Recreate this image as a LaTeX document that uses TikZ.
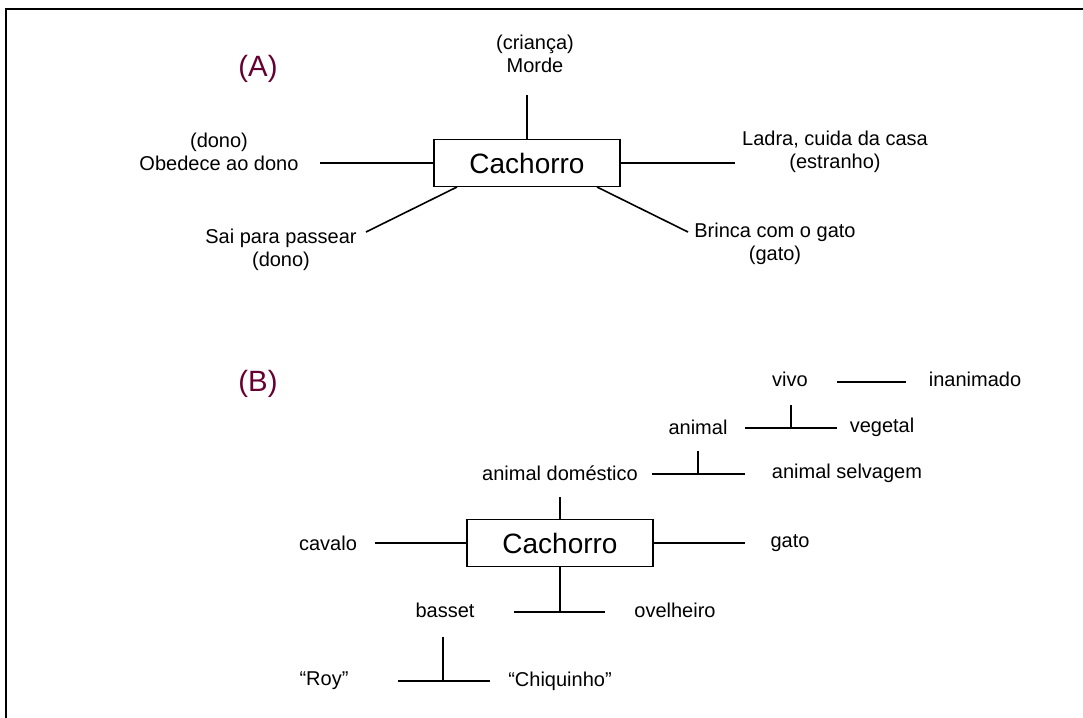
\documentclass[tikz,border=0pt]{standalone}
\usepackage{fontspec}
\setmainfont{Liberation Sans}
\definecolor{labelred}{HTML}{660033}
\begin{document}
\begin{tikzpicture}[x=0.75pt,y=-0.75pt,
  txt/.style={font=\fontsize{15}{17.25}\selectfont, inner sep=0pt, align=center},
  boxnode/.style={draw, line width=1.2pt, font=\fontsize{21}{24}\selectfont,
    minimum width=139.5pt, minimum height=35.25pt, inner sep=0pt},
  conn/.style={line width=1.2pt},
  panel/.style={font=\fontsize{22}{26}\selectfont, text=labelred, inner sep=0pt},
  frame/.style={line width=2.2pt}]
\useasboundingbox (0,0) rectangle (1083,718);
\draw[frame] (6,718) -- (6,9) -- (1083,9);

% ---------- (A) ----------
\node[panel] (labA) at (258,69) {(A)};
\node[boxnode] (boxA) at (527,163) {Cachorro};
\node[txt] (crianca) at (535,54) {(criança)\\Morde};
\node[txt] (obedece) at (219,152) {(dono)\\Obedece ao dono};
\node[txt] (ladra) at (835,152) {Ladra, cuida da casa\\(estranho)};
\node[txt] (sai) at (281,250) {Sai para passear\\(dono)};
\node[txt] (brinca) at (775,244) {Brinca com o gato\\(gato)};

\coordinate (aTop) at (527,95);
\coordinate (aL) at (320,163);
\coordinate (aR) at (735,163);
\coordinate (aLLs) at (457,187);
\coordinate (aLLe) at (366,232);
\coordinate (aLRs) at (597,187);
\coordinate (aLRe) at (688,232);
\draw[conn] (boxA.north) -- (aTop);
\draw[conn] (boxA.west) -- (aL);
\draw[conn] (boxA.east) -- (aR);
\draw[conn] (aLLs) -- (aLLe);
\draw[conn] (aLRs) -- (aLRe);

% ---------- (B) ----------
\node[panel] (labB) at (258,384) {(B)};
\node[boxnode] (boxB) at (560,543) {Cachorro};
\node[txt] (vivo) at (790,379) {vivo};
\node[txt] (inanimado) at (975,379) {inanimado};
\node[txt] (animal) at (698,427) {animal};
\node[txt] (vegetal) at (882,427) {vegetal};
\node[txt] (domestico) at (560,473) {animal doméstico};
\node[txt] (selvagem) at (847,473) {animal selvagem};
\node[txt] (cavalo) at (328,543) {cavalo};
\node[txt] (gato) at (790,543) {gato};
\node[txt] (basset) at (445,610) {basset};
\node[txt] (ovelheiro) at (675,610) {ovelheiro};
\node[txt] (roy) at (324,681) {“Roy”};
\node[txt] (chiquinho) at (560,681) {“Chiquinho”};

% vivo -- inanimado
\coordinate (v1) at (837,382);
\coordinate (v2) at (906,382);
\draw[conn] (v1) -- (v2);
% animal -- vegetal with tick from vivo
\coordinate (an1) at (745,428);
\coordinate (an2) at (837,428);
\coordinate (anT) at (791,405);
\draw[conn] (an1) -- (an2);
\draw[conn] (anT) -- (anT |- an1);
% domestico -- selvagem with tick from animal
\coordinate (d1) at (652,474);
\coordinate (d2) at (745,474);
\coordinate (dT) at (698,451);
\draw[conn] (d1) -- (d2);
\draw[conn] (dT) -- (dT |- d1);
% box B connectors
\coordinate (bTop) at (560,497);
\coordinate (bL) at (375,543);
\coordinate (bR) at (745,543);
\coordinate (bBot) at (560,612);
\coordinate (bb1) at (514,612);
\coordinate (bb2) at (605,612);
\draw[conn] (boxB.north) -- (bTop);
\draw[conn] (boxB.west) -- (bL);
\draw[conn] (boxB.east) -- (bR);
\draw[conn] (boxB.south) -- (bBot);
\draw[conn] (bb1) -- (bb2);
% basset tick
\coordinate (rT) at (443,637);
\coordinate (r1) at (398,681);
\coordinate (r2) at (490,681);
\draw[conn] (rT) -- (rT |- r1);
\draw[conn] (r1) -- (r2);
\end{tikzpicture}
\end{document}
